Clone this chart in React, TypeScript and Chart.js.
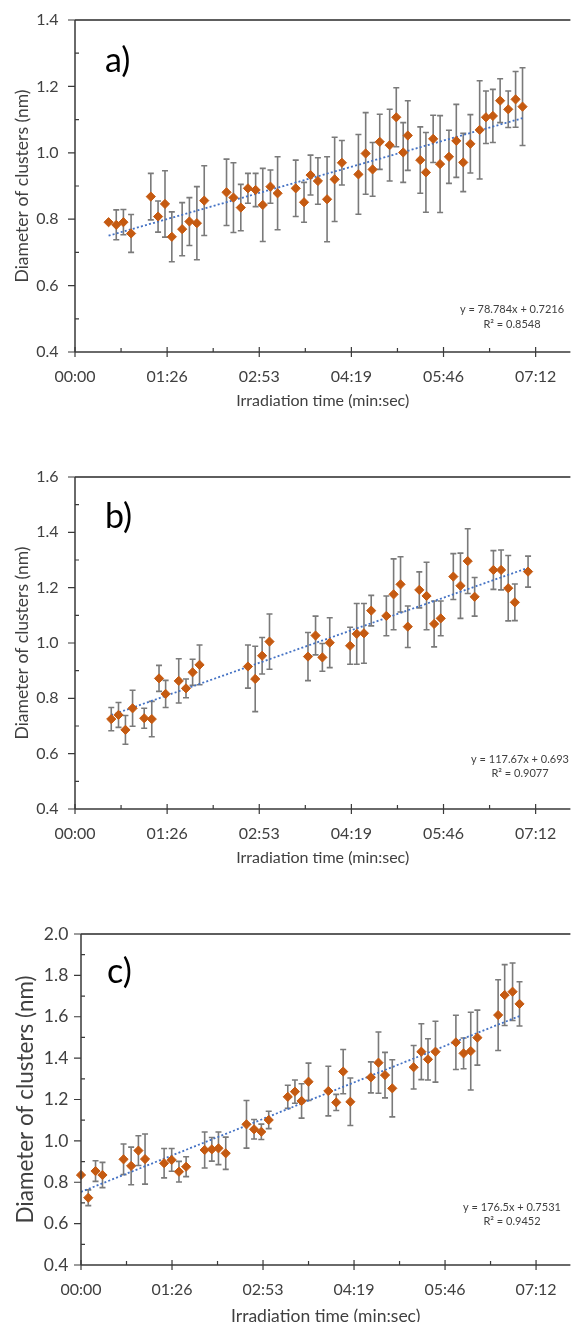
import React, { useEffect, useRef } from 'react';
import { Chart, registerables } from 'chart.js';

Chart.register(...registerables);

// ---------- shared axis data ----------
const SECONDS_PER_DAY = 86400;
const X_MAX = 464.6;
const X_TICK_VALUES = [0, 86.4, 172.8, 259.2, 345.6, 432];
const X_TICK_LABELS = ['00:00', '01:26', '02:53', '04:19', '05:46', '07:12'];
const X_TITLE = 'Irradiation time (min:sec)';
const Y_TITLE = 'Diameter of clusters (nm)';

// ---------- panel a ----------
const A_TIME = [31.5, 38.7, 45.4, 52.6, 71.1, 77.9, 84.4, 90.8, 100.5, 107.3, 114.3, 121.2, 142.1, 148.6, 155.5, 162.2, 169.4, 176.1, 183.3, 190.0, 207.0, 214.8, 220.9, 227.8, 236.4, 243.5, 250.3, 265.8, 272.6, 279.1, 285.8, 295.1, 301.3, 307.8, 312.1, 323.8, 329.1, 335.9, 342.4, 350.7, 357.6, 364.1, 370.8, 379.5, 385.4, 391.9, 398.7, 406.3, 413.2, 419.7];
const A_DIAM = [0.791, 0.783, 0.791, 0.757, 0.868, 0.808, 0.846, 0.747, 0.770, 0.793, 0.788, 0.856, 0.881, 0.865, 0.835, 0.893, 0.888, 0.843, 0.898, 0.878, 0.893, 0.851, 0.933, 0.915, 0.860, 0.920, 0.970, 0.935, 0.998, 0.950, 1.033, 1.023, 1.107, 1.001, 1.052, 0.978, 0.941, 1.042, 0.966, 0.988, 1.036, 0.971, 1.027, 1.069, 1.107, 1.111, 1.157, 1.131, 1.161, 1.139];
const A_ERR = [0, 0.045, 0.038, 0.057, 0.07, 0.047, 0.1, 0.075, 0.08, 0.072, 0.11, 0.105, 0.1, 0.105, 0.07, 0.045, 0.05, 0.11, 0.05, 0.11, 0.085, 0.06, 0.06, 0.07, 0.128, 0.127, 0.067, 0.12, 0.123, 0.081, 0.083, 0.108, 0.089, 0.09, 0.105, 0.1, 0.12, 0.071, 0.146, 0.08, 0.11, 0.088, 0.088, 0.148, 0.079, 0.08, 0.066, 0.055, 0.084, 0.117];
const A_Y_TICKS = [0.4, 0.6, 0.8, 1.0, 1.2, 1.4];
const A_SLOPE = 78.784;
const A_INTERCEPT = 0.7216;
const A_R2 = '0.8548';

// ---------- panel b ----------
const B_TIME = [34.0, 40.8, 47.3, 54.0, 64.9, 72.0, 78.8, 85.0, 97.3, 104.1, 110.3, 116.8, 162.2, 169.0, 175.5, 182.4, 218.5, 225.6, 232.0, 238.9, 258.0, 264.2, 271.0, 277.8, 292.0, 298.8, 305.3, 312.1, 322.9, 329.7, 336.8, 343.0, 354.8, 361.5, 368.3, 374.8, 392.4, 399.6, 406.3, 412.5, 424.9];
const B_DIAM = [0.725, 0.740, 0.686, 0.764, 0.728, 0.725, 0.872, 0.816, 0.863, 0.836, 0.894, 0.921, 0.915, 0.870, 0.954, 1.005, 0.951, 1.027, 0.948, 1.001, 0.990, 1.033, 1.035, 1.117, 1.098, 1.176, 1.212, 1.059, 1.192, 1.170, 1.069, 1.089, 1.240, 1.207, 1.296, 1.167, 1.264, 1.264, 1.198, 1.147, 1.258];
const B_ERR = [0.042, 0.045, 0.052, 0.065, 0.036, 0.064, 0.047, 0.049, 0.08, 0.034, 0.047, 0.072, 0.078, 0.118, 0.066, 0.1, 0.087, 0.07, 0.05, 0.09, 0.067, 0.11, 0.108, 0.055, 0.072, 0.128, 0.1, 0.075, 0.065, 0.122, 0.083, 0.063, 0.083, 0.118, 0.117, 0.07, 0.07, 0.072, 0.118, 0.066, 0.056];
const B_Y_TICKS = [0.4, 0.6, 0.8, 1.0, 1.2, 1.4, 1.6];
const B_SLOPE = 117.67;
const B_INTERCEPT = 0.693;
const B_R2 = '0.9077';

// ---------- panel c ----------
const C_TIME = [0, 6.9, 13.8, 20.4, 40.4, 47.6, 54.5, 60.8, 78.9, 86.1, 93.0, 99.8, 117.4, 124.2, 130.5, 137.4, 157.1, 164.3, 171.2, 178.2, 196.3, 203.1, 209.4, 216.0, 234.8, 242.3, 248.9, 255.7, 275.2, 282.4, 288.6, 295.5, 315.8, 323.1, 329.4, 336.5, 355.9, 363.2, 370.0, 376.3, 396.0, 402.2, 409.7, 416.3];
const C_DIAM = [0.835, 0.725, 0.854, 0.835, 0.911, 0.879, 0.953, 0.912, 0.892, 0.908, 0.851, 0.875, 0.956, 0.959, 0.964, 0.940, 1.080, 1.056, 1.044, 1.101, 1.213, 1.238, 1.193, 1.286, 1.241, 1.186, 1.335, 1.189, 1.307, 1.378, 1.318, 1.254, 1.356, 1.431, 1.394, 1.431, 1.476, 1.423, 1.434, 1.499, 1.608, 1.705, 1.721, 1.662];
const C_ERR = [0, 0.038, 0.05, 0.061, 0.074, 0.091, 0.072, 0.121, 0.071, 0.055, 0.05, 0.048, 0.087, 0.057, 0.079, 0.078, 0.115, 0.047, 0.037, 0.042, 0.056, 0.056, 0.083, 0.09, 0.12, 0.039, 0.107, 0.115, 0.075, 0.148, 0.11, 0.138, 0.105, 0.135, 0.1, 0.147, 0.131, 0.074, 0.188, 0.133, 0.171, 0.147, 0.139, 0.107];
const C_Y_TICKS = [0.4, 0.6, 0.8, 1.0, 1.2, 1.4, 1.6, 1.8, 2.0];
const C_SLOPE = 176.5;
const C_INTERCEPT = 0.7531;
const C_R2 = '0.9452';

// ---------- styles ----------
const FONT = 'Lato, Carlito, "Open Sans", sans-serif';
const TEXT_COLOR = '#404040';
const AXIS_COLOR = '#3a3a3a';
const FRAME_COLOR = '#5e5e5e';
const MARKER_COLOR = '#C55A11';
const ERR_COLOR = '#7a7a7a';
const TREND_COLOR = '#4472C4';

type Panel = {
  key: string;
  label: string;
  time: number[];
  diam: number[];
  err: number[];
  yTicks: number[];
  slope: number;
  intercept: number;
  r2: string;
  top: number;
  height: number;
  padTop: number;
  yAxisW: number;
  xAxisH: number;
  yTickFont: number;
  xTickFont: number;
  yTitleFont: number;
  xTitleFont: number;
  yTitlePad: number;
  xTitlePad: number;
  yTickPad: number;
  xTickPad: number;
  eqX: number;
  eqY: number;
  eqGap: number;
  eqFont: number;
  labelX: number;
  labelDY: number;
  labelFont: number;
};

const PANELS: Panel[] = [
  {
    key: 'a', label: 'a)', time: A_TIME, diam: A_DIAM, err: A_ERR, yTicks: A_Y_TICKS,
    slope: A_SLOPE, intercept: A_INTERCEPT, r2: A_R2,
    top: 0, height: 440, padTop: 20, yAxisW: 75, xAxisH: 88,
    yTickFont: 16, xTickFont: 16, yTitleFont: 17.5, xTitleFont: 16,
    yTitlePad: 12, xTitlePad: 30, yTickPad: 16.5, xTickPad: 15,
    eqX: 512, eqY: 309, eqGap: 15, eqFont: 11,
    labelX: 105, labelDY: 52, labelFont: 34,
  },
  {
    key: 'b', label: 'b)', time: B_TIME, diam: B_DIAM, err: B_ERR, yTicks: B_Y_TICKS,
    slope: B_SLOPE, intercept: B_INTERCEPT, r2: B_R2,
    top: 440, height: 440, padTop: 37, yAxisW: 75, xAxisH: 71,
    yTickFont: 16, xTickFont: 16, yTitleFont: 17.5, xTitleFont: 16,
    yTitlePad: 12, xTitlePad: 12.4, yTickPad: 16.5, xTickPad: 15,
    eqX: 520, eqY: 319, eqGap: 14, eqFont: 11,
    labelX: 105, labelDY: 51, labelFont: 34,
  },
  {
    key: 'c', label: 'c)', time: C_TIME, diam: C_DIAM, err: C_ERR, yTicks: C_Y_TICKS,
    slope: C_SLOPE, intercept: C_INTERCEPT, r2: C_R2,
    top: 880, height: 460, padTop: 54, yAxisW: 81, xAxisH: 75,
    yTickFont: 17.5, xTickFont: 16, yTitleFont: 22.5, xTitleFont: 17.5,
    yTitlePad: 12.5, xTitlePad: 13.5, yTickPad: 12.7, xTickPad: 15,
    eqX: 512, eqY: 327, eqGap: 14, eqFont: 11,
    labelX: 107, labelDY: 49, labelFont: 34,
  },
];

function trendPoints(p: Panel) {
  const t0 = Math.min(...p.time);
  const t1 = Math.max(...p.time);
  const f = (t: number) => p.intercept + (p.slope * t) / SECONDS_PER_DAY;
  return [
    { x: t0, y: f(t0) },
    { x: t1, y: f(t1) },
  ];
}

function decorPlugin(p: Panel) {
  return {
    id: 'decor_' + p.key,
    beforeDatasetsDraw(chart: any) {
      const ctx = chart.ctx as CanvasRenderingContext2D;
      const xs = chart.scales.x;
      const ys = chart.scales.y;
      ctx.save();
      ctx.strokeStyle = ERR_COLOR;
      ctx.lineWidth = 1.6;
      p.time.forEach((t, i) => {
        const e = p.err[i];
        if (!e) return;
        const px = xs.getPixelForValue(t);
        const y1 = ys.getPixelForValue(p.diam[i] + e);
        const y2 = ys.getPixelForValue(p.diam[i] - e);
        ctx.beginPath();
        ctx.moveTo(px, y1);
        ctx.lineTo(px, y2);
        ctx.moveTo(px - 3, y1);
        ctx.lineTo(px + 3, y1);
        ctx.moveTo(px - 3, y2);
        ctx.lineTo(px + 3, y2);
        ctx.stroke();
      });
      ctx.restore();
    },
    afterDraw(chart: any) {
      const ctx = chart.ctx as CanvasRenderingContext2D;
      const xs = chart.scales.x;
      const ys = chart.scales.y;
      const { left, right, top, bottom } = chart.chartArea;
      ctx.save();
      // top frame
      ctx.strokeStyle = FRAME_COLOR;
      ctx.lineWidth = 2;
      ctx.beginPath();
      ctx.moveTo(left, top);
      ctx.lineTo(right, top);
      ctx.stroke();
      // axes
      ctx.strokeStyle = AXIS_COLOR;
      ctx.lineWidth = 1.5;
      ctx.beginPath();
      ctx.moveTo(left, top);
      ctx.lineTo(left, bottom);
      ctx.moveTo(left, bottom);
      ctx.lineTo(right, bottom);
      ctx.stroke();
      ctx.lineWidth = 1.2;
      ctx.beginPath();
      // y ticks (major outside, minor inside)
      p.yTicks.forEach((v, i) => {
        const y = ys.getPixelForValue(v);
        ctx.moveTo(left - 7, y);
        ctx.lineTo(left, y);
        if (i < p.yTicks.length - 1) {
          const ym = ys.getPixelForValue((v + p.yTicks[i + 1]) / 2);
          ctx.moveTo(left, ym);
          ctx.lineTo(left + 4, ym);
        }
      });
      // x ticks (major cross, minor inside)
      X_TICK_VALUES.forEach((v, i) => {
        const x = xs.getPixelForValue(v);
        ctx.moveTo(x, bottom - 5);
        ctx.lineTo(x, bottom + 5);
        if (i < X_TICK_VALUES.length - 1) {
          const xm = xs.getPixelForValue((v + X_TICK_VALUES[i + 1]) / 2);
          ctx.moveTo(xm, bottom - 4);
          ctx.lineTo(xm, bottom);
        }
      });
      ctx.stroke();
      // equation
      ctx.fillStyle = TEXT_COLOR;
      ctx.font = `${p.eqFont}px ${FONT}`;
      ctx.textAlign = 'center';
      ctx.textBaseline = 'middle';
      ctx.fillText(`y = ${p.slope}x + ${p.intercept}`, p.eqX, p.eqY);
      ctx.fillText(`R² = ${p.r2}`, p.eqX, p.eqY + p.eqGap);
      // panel label
      ctx.fillStyle = '#000000';
      ctx.font = `${p.labelFont}px ${FONT}`;
      ctx.textAlign = 'left';
      ctx.textBaseline = 'alphabetic';
      ctx.fillText(p.label, p.labelX, top + p.labelDY);
      ctx.restore();
    },
  };
}

function buildChart(canvas: HTMLCanvasElement, p: Panel) {
  const yMin = p.yTicks[0];
  const yMax = p.yTicks[p.yTicks.length - 1];
  return new Chart(canvas, {
    type: 'scatter',
    data: {
      datasets: [
        {
          label: 'Diameter',
          data: p.time.map((t, i) => ({ x: t, y: p.diam[i] })),
          pointStyle: 'rectRot',
          pointRadius: 4.6,
          pointBackgroundColor: MARKER_COLOR,
          pointBorderColor: MARKER_COLOR,
          pointBorderWidth: 1,
          showLine: false,
          clip: false as any,
          order: 0,
        },
        {
          label: 'Trend',
          data: trendPoints(p),
          showLine: true,
          borderColor: TREND_COLOR,
          borderWidth: 1.8,
          borderDash: [2, 2.2],
          pointRadius: 0,
          fill: false,
          order: 1,
        },
      ],
    },
    options: {
      responsive: false,
      animation: false,
      devicePixelRatio: 1,
      events: [],
      layout: { padding: { top: p.padTop, left: 0, right: 0, bottom: 0 } },
      plugins: {
        legend: { display: false },
        tooltip: { enabled: false },
      },
      scales: {
        x: {
          type: 'linear',
          min: 0,
          max: X_MAX,
          grid: { display: false, drawTicks: false },
          border: { display: false },
          afterBuildTicks: (s: any) => {
            s.ticks = X_TICK_VALUES.map((v) => ({ value: v }));
          },
          afterFit: (s: any) => {
            s.height = p.xAxisH;
            s.paddingLeft = 0;
            s.paddingRight = 0;
          },
          ticks: {
            autoSkip: false,
            maxRotation: 0,
            padding: p.xTickPad,
            color: TEXT_COLOR,
            font: { family: FONT, size: p.xTickFont },
            callback: (_v: any, i: number) => X_TICK_LABELS[i],
          },
          title: {
            display: true,
            text: X_TITLE,
            color: TEXT_COLOR,
            font: { family: FONT, size: p.xTitleFont },
            padding: { top: 0, bottom: p.xTitlePad },
          },
        },
        y: {
          type: 'linear',
          min: yMin,
          max: yMax,
          grid: { display: false, drawTicks: false },
          border: { display: false },
          afterBuildTicks: (s: any) => {
            s.ticks = p.yTicks.map((v) => ({ value: v }));
          },
          afterFit: (s: any) => {
            s.width = p.yAxisW;
            s.paddingTop = 0;
            s.paddingBottom = 0;
          },
          ticks: {
            autoSkip: false,
            padding: p.yTickPad,
            color: TEXT_COLOR,
            font: { family: FONT, size: p.yTickFont },
            callback: (v: any) => Number(v).toFixed(1),
          },
          title: {
            display: true,
            text: Y_TITLE,
            color: TEXT_COLOR,
            font: { family: FONT, size: p.yTitleFont },
            padding: { top: p.yTitlePad, bottom: 0 },
          },
        },
      },
    },
    plugins: [decorPlugin(p)],
  } as any);
}

export default function App() {
  const r0 = useRef<HTMLCanvasElement>(null);
  const r1 = useRef<HTMLCanvasElement>(null);
  const r2 = useRef<HTMLCanvasElement>(null);
  const refs = [r0, r1, r2];

  useEffect(() => {
    const charts = PANELS.map((p, i) => buildChart(refs[i].current as HTMLCanvasElement, p));
    return () => charts.forEach((c) => c.destroy());
  }, []);

  return (
    <div
      style={{
        position: 'absolute',
        left: 0,
        top: 0,
        width: 576,
        height: 1322,
        overflow: 'hidden',
        background: '#ffffff',
      }}
    >
      {PANELS.map((p, i) => (
        <canvas
          key={p.key}
          ref={refs[i]}
          width={576}
          height={p.height}
          style={{ position: 'absolute', left: 0, top: p.top, width: 576, height: p.height, display: 'block' }}
        />
      ))}
    </div>
  );
}
